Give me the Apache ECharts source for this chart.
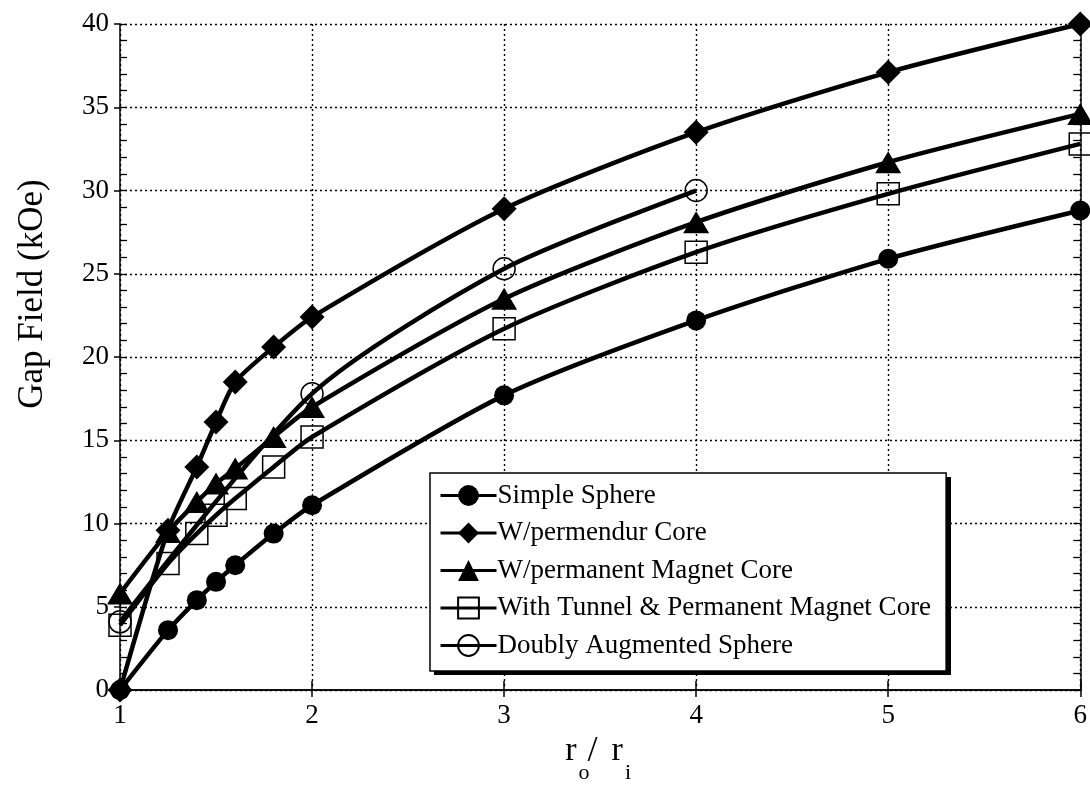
<!DOCTYPE html>
<html>
<head>
<meta charset="utf-8">
<script src="https://cdn.jsdelivr.net/npm/echarts@6/dist/echarts.min.js"></script>
<style>
  html, body { margin: 0; padding: 0; background: #fff; }
  #chart { width: 1090px; height: 789px; }
</style>
</head>
<body>
<div id="chart"></div>
<script>
// Radius ratio r_o / r_i sampled for each design
const ratios = [1, 1.25, 1.4, 1.5, 1.6, 1.8, 2, 3, 4, 5, 6];
const doublyRatios = [1, 2, 3, 4];

// Gap field in kOe
const simpleSphere   = [0, 3.6, 5.4, 6.5, 7.5, 9.4, 11.1, 17.7, 22.2, 25.9, 28.8];
const permendurCore  = [0, 9.6, 13.4, 16.1, 18.5, 20.6, 22.4, 28.9, 33.5, 37.1, 40.0];
const permMagnetCore = [5.8, 9.5, 11.3, 12.4, 13.3, 15.2, 17.0, 23.5, 28.1, 31.7, 34.6];
const tunnelCore     = [3.9, 7.6, 9.4, 10.5, 11.5, 13.4, 15.2, 21.7, 26.3, 29.8, 32.8];
const doublyAug      = [4.1, 17.8, 25.3, 30.0];

const seriesNames = [
  'Simple Sphere',
  'W/permendur Core',
  'W/permanent Magnet Core',
  'With Tunnel & Permanent Magnet Core',
  'Doubly Augmented Sphere'
];

const xTicks = [1, 2, 3, 4, 5, 6];
const yTicks = [0, 5, 10, 15, 20, 25, 30, 35, 40];

const FONT = '"Liberation Serif", "Times New Roman", serif';

function pairs(xs, ys) {
  return xs.map((x, i) => [x, ys[i]]);
}

function lineSeries(name, xs, ys, symbol, size, filled) {
  return {
    name: name,
    type: 'line',
    data: pairs(xs, ys),
    symbol: symbol,
    symbolSize: size,
    smooth: 0.25,
    clip: false,
    z: 2,
    lineStyle: { color: '#000', width: 4.5 },
    itemStyle: filled
      ? { color: '#000', borderColor: '#000', borderWidth: 0 }
      : { color: 'rgba(0,0,0,0)', borderColor: '#000', borderWidth: 1.5 },
    emphasis: { disabled: true }
  };
}

const chart = echarts.init(document.getElementById('chart'), null, { renderer: 'canvas' });

const axisLine = { show: true, lineStyle: { color: '#000', width: 1.5 } };
const dotted = { show: true, lineStyle: { color: '#000', width: 1.4, type: [2, 3] } };

// legend frame geometry (box plus its solid drop shadow)
const legendBox = { left: 430, top: 473, width: 517, height: 198 };
const shadowOffset = 4;

chart.setOption({
  animation: false,
  backgroundColor: '#fff',
  grid: { left: 120, right: 9, top: 24, bottom: 96, containLabel: false },
  graphic: [
    {
      type: 'rect',
      z: 3,
      silent: true,
      shape: {
        x: legendBox.left + shadowOffset,
        y: legendBox.top + shadowOffset,
        width: legendBox.width,
        height: legendBox.height
      },
      style: { fill: '#000' }
    }
  ],
  legend: {
    left: legendBox.left,
    top: legendBox.top,
    z: 5,
    orient: 'vertical',
    data: seriesNames,
    itemWidth: 56,
    itemHeight: 26,
    itemGap: 10.5,
    padding: [9, 15, 12, 9],
    backgroundColor: '#fff',
    borderColor: '#000',
    borderWidth: 1.5,
    borderRadius: 0,
    selectedMode: false,
    lineStyle: { width: 3 },
    textStyle: { fontFamily: FONT, fontSize: 27, color: '#000', padding: [0, 0, 0, -4] }
  },
  xAxis: [
    {
      type: 'value', min: 1, max: 6, interval: 1, position: 'bottom',
      axisLine: axisLine,
      axisTick: { show: true, inside: false, length: 7, lineStyle: { color: '#000', width: 1.5 } },
      axisLabel: {
        margin: 12, fontFamily: FONT, fontSize: 27, color: '#000',
        formatter: v => (xTicks.indexOf(v) >= 0 ? String(v) : '')
      },
      splitLine: dotted,
      name: '{r|r}{s|o}{sl|/}{r|r}{s|i}',
      nameLocation: 'middle',
      nameGap: 42,
      nameTextStyle: {
        rich: {
          r: { fontFamily: FONT, fontSize: 34, color: '#000', verticalAlign: 'top' },
          s: { fontFamily: FONT, fontSize: 22, color: '#000', verticalAlign: 'bottom', padding: [28, 4, 0, 2] },
          sl: { fontFamily: FONT, fontSize: 36, color: '#000', verticalAlign: 'top', padding: [0, 14, 0, -6] }
        }
      }
    },
    {
      type: 'value', min: 1, max: 6, interval: 1, position: 'top',
      axisLine: axisLine,
      axisTick: { show: true, inside: false, length: 9, lineStyle: { color: '#000', width: 1.5 } },
      axisLabel: { show: false },
      splitLine: { show: false }
    }
  ],
  yAxis: [
    {
      type: 'value', min: 0, max: 40, interval: 5, position: 'left',
      axisLine: axisLine,
      axisTick: { show: true, inside: false, length: 6, lineStyle: { color: '#000', width: 1.5 } },
      axisLabel: {
        margin: 11, fontFamily: FONT, fontSize: 27, color: '#000',
        formatter: v => (yTicks.indexOf(v) >= 0 ? String(v) : '')
      },
      splitLine: dotted,
      name: 'Gap Field (kOe)',
      nameLocation: 'middle',
      nameGap: 70,
      nameTextStyle: { fontFamily: FONT, fontSize: 35, color: '#000', padding: [0, 0, 0, 126] }
    },
    {
      type: 'value', min: 0, max: 40, interval: 5, position: 'left',
      axisLine: { show: false },
      axisTick: { show: true, inside: true, length: 7, lineStyle: { color: '#000', width: 1.3 } },
      minorTick: { show: true, splitNumber: 5, length: 7, lineStyle: { color: '#000', width: 1.3 } },
      axisLabel: { show: false },
      splitLine: { show: false }
    },
    {
      type: 'value', min: 0, max: 40, interval: 5, position: 'right',
      axisLine: axisLine,
      axisTick: { show: true, inside: true, length: 7, lineStyle: { color: '#000', width: 1.3 } },
      minorTick: { show: true, splitNumber: 5, length: 7, lineStyle: { color: '#000', width: 1.3 } },
      axisLabel: { show: false },
      splitLine: { show: false }
    }
  ],
  series: [
    lineSeries(seriesNames[0], ratios, simpleSphere, 'circle', 20, true),
    lineSeries(seriesNames[1], ratios, permendurCore, 'diamond', [25, 25], true),
    lineSeries(seriesNames[2], ratios, permMagnetCore, 'triangle', [26, 22], true),
    lineSeries(seriesNames[3], ratios, tunnelCore, 'rect', 22, false),
    lineSeries(seriesNames[4], doublyRatios, doublyAug, 'circle', 22, false)
  ]
});
</script>
</body>
</html>
